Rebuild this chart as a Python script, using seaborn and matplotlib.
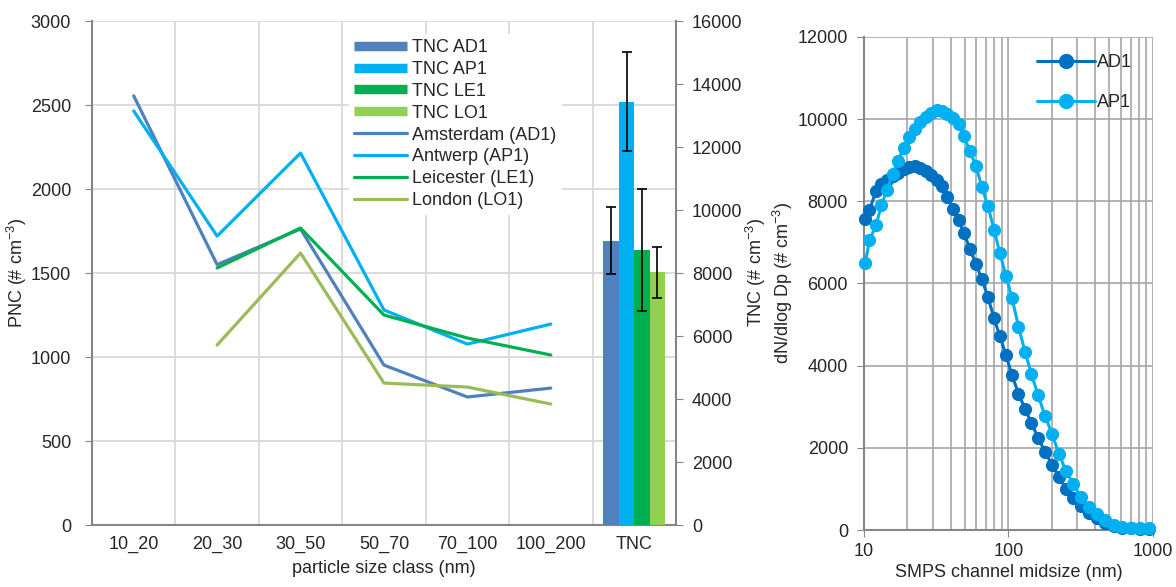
import numpy as np
import pandas as pd
import matplotlib
matplotlib.use("Agg")
import matplotlib.pyplot as plt
from matplotlib.lines import Line2D
from matplotlib.ticker import LogLocator, NullFormatter
import seaborn as sns

sns.set_style("white")
plt.rcParams["font.family"] = ["Liberation Sans", "DejaVu Sans"]
plt.rcParams["font.size"] = 13
plt.rcParams["mathtext.default"] = "regular"

# left panel: PNC per size class + TNC bars
size_classes = ["10_20", "20_30", "30_50", "50_70", "70_100", "100_200"]
x_categories = size_classes + ["TNC"]
sites = ["AD1", "AP1", "LE1", "LO1"]
city_names = ["Amsterdam (AD1)", "Antwerp (AP1)", "Leicester (LE1)", "London (LO1)"]
ad1_pnc = [2555, 1550, 1762, 952, 762, 815]
ap1_pnc = [2465, 1720, 2214, 1280, 1077, 1196]
le1_pnc = [np.nan, 1530, 1768, 1250, 1113, 1012]
lo1_pnc = [np.nan, 1071, 1619, 845, 821, 720]
tnc_mean = [9030, 13440, 8730, 8020]
tnc_err = [1050, 1570, 1925, 800]

line_colors = ["#4f81bd", "#00b0f0", "#00b050", "#9bbb59"]
bar_colors = ["#4f81bd", "#00b0f0", "#00b050", "#92d050"]

# right panel: SMPS size distribution
midsize = [10.2, 10.9, 12.1, 13.2, 14.4, 15.8, 17.2, 18.8, 20.5, 22.4,
           24.4, 26.7, 29.1, 31.8, 34.7, 37.8, 41.3, 45.1, 49.2, 54.1,
           59.6, 65.6, 72.1, 79.4, 87.3, 96.1, 105.7, 117.3, 130.1, 144.3,
           160.0, 178.9, 200.0, 223.7, 250.0, 281.8, 317.6, 360.7, 409.9, 469.3,
           537.3, 615.1, 704.3, 812.8, 938.2]
ad1_psd = [7560, 7790, 8240, 8410, 8520, 8610, 8700, 8780, 8830, 8870,
           8820, 8740, 8640, 8520, 8370, 8100, 7810, 7550, 7230, 6840,
           6470, 6100, 5660, 5160, 4710, 4260, 3770, 3320, 2950, 2600,
           2250, 1910, 1590, 1290, 1010, 790, 580, 420, 290, 180,
           100, 60, 40, 30, 25]
ap1_psd = [6490, 7050, 7420, 7900, 8280, 8670, 8990, 9290, 9560, 9760,
           9920, 10050, 10150, 10230, 10200, 10120, 10020, 9870, 9580, 9220,
           8850, 8340, 7880, 7310, 6730, 6190, 5650, 4950, 4340, 3790,
           3290, 2780, 2340, 1850, 1440, 1110, 810, 560, 390, 250,
           130, 80, 56, 42, 40]

spine_col = "#868686"
grid_left = "#d9d9d9"
grid_right = "#a6a6a6"

fig = plt.figure(figsize=(11.76, 5.87), dpi=100)
ax = fig.add_axes([0.0782, 0.1056, 0.4966, 0.8586])
ax2 = ax.twinx()
axr = fig.add_axes([0.7347, 0.0971, 0.2457, 0.8399])

# lines
pnc = pd.DataFrame({
    "pos": np.tile(np.arange(len(size_classes)), len(sites)),
    "pnc": np.concatenate([ad1_pnc, ap1_pnc, le1_pnc, lo1_pnc]),
    "city": np.repeat(city_names, len(size_classes)),
})
sns.lineplot(data=pnc.dropna(), x="pos", y="pnc", hue="city", palette=line_colors,
             linewidth=2.3, ax=ax, legend=False, sort=False)

# TNC bars on secondary axis
tnc = pd.DataFrame({"cat": ["TNC"] * 4, "tnc": tnc_mean,
                    "site": ["TNC " + s for s in sites]})
sns.barplot(data=tnc, x="cat", y="tnc", hue="site", order=x_categories,
            palette=bar_colors, width=0.74, errorbar=None, saturation=1,
            linewidth=0, ax=ax2, legend=False)
bars = sorted([p for p in ax2.patches if p.get_height() > 0], key=lambda p: p.get_x())
for p, err in zip(bars, tnc_err):
    ax2.errorbar(p.get_x() + p.get_width() / 2, p.get_height(), yerr=err, fmt="none",
                 ecolor="black", elinewidth=1.2, capsize=3.8, capthick=1.2)

ax.set_xlim(-0.5, 6.5)
ax.set_ylim(0, 3000)
ax.set_yticks(np.arange(0, 3001, 500))
ax2.set_ylim(0, 16000)
ax2.set_yticks(np.arange(0, 16001, 2000))
ax.set_xticks(range(len(x_categories)))
ax.set_xticklabels(x_categories)
ax.set_xticks(np.arange(-0.5, 7, 1), minor=True)
ax.tick_params(axis="x", which="major", length=0, pad=8)
ax.tick_params(axis="x", which="minor", length=5, color=spine_col, direction="out")
ax.tick_params(axis="y", length=5, color=spine_col, pad=10, left=True)
ax2.tick_params(axis="y", length=5, color=spine_col, pad=6.5, right=True)
ax.grid(False)
ax2.grid(False)
ax.grid(axis="x", which="minor", color=grid_left, linewidth=1.3)
ax.grid(axis="y", which="major", color=grid_left, linewidth=1.3)
for a in (ax, ax2):
    for s in a.spines.values():
        s.set_visible(False)
ax.spines["left"].set_visible(True)
ax.spines["bottom"].set_visible(True)
ax2.spines["right"].set_visible(True)
for s in (ax.spines["left"], ax.spines["bottom"], ax2.spines["right"]):
    s.set_color(spine_col)
    s.set_linewidth(1.5)
ax.set_xlabel("particle size class (nm)", labelpad=5)
ax.set_ylabel("PNC (# cm$^{-3}$)", labelpad=1)
ax2.set_ylabel("TNC (# cm$^{-3}$)", labelpad=1)

handles = [Line2D([], [], color=c, lw=6.8, solid_capstyle="butt") for c in bar_colors]
handles += [Line2D([], [], color=c, lw=2.3, solid_capstyle="round") for c in line_colors]
labels = ["TNC " + s for s in sites] + city_names
leg = ax2.legend(handles, labels, loc="upper left", bbox_to_anchor=(0.44, 0.975),
                 frameon=True, fancybox=False, framealpha=1, edgecolor="none",
                 facecolor="white", handlelength=2.9, handletextpad=0.3,
                 labelspacing=0.27, borderpad=0.3, borderaxespad=0)

# right panel
psd = pd.DataFrame({
    "Dp": midsize * 2,
    "dN": ad1_psd + ap1_psd,
    "site": ["AD1"] * len(midsize) + ["AP1"] * len(midsize),
})
axr.set_xscale("log")
sns.lineplot(data=psd, x="Dp", y="dN", hue="site", palette=["#0070c0", "#00b0f0"],
             marker="o", markersize=9.5, markeredgewidth=0, linewidth=2.2,
             ax=axr, legend=False, sort=False, clip_on=False, zorder=3)
axr.set_xlim(10, 1000)
axr.set_ylim(0, 12000)
axr.set_yticks(np.arange(0, 12001, 2000))
axr.set_xticks([10, 100, 1000])
axr.set_xticklabels(["10", "100", "1000"])
axr.xaxis.set_minor_locator(LogLocator(base=10, subs=np.arange(2, 10)))
axr.xaxis.set_minor_formatter(NullFormatter())
axr.grid(False)
axr.grid(axis="x", which="both", color=grid_right, linewidth=1.2)
axr.grid(axis="y", which="major", color=grid_right, linewidth=1.2)
axr.tick_params(axis="x", which="major", length=5, color=spine_col, pad=4, bottom=True)
axr.tick_params(axis="x", which="minor", length=0)
axr.tick_params(axis="y", length=5, color=spine_col, pad=6.5, left=True)
for name, s in axr.spines.items():
    s.set_visible(name in ("left", "bottom"))
    s.set_color(spine_col)
    s.set_linewidth(1.5)
    s.set_zorder(2)
axr.set_xlabel("SMPS channel midsize (nm)", labelpad=3)
axr.set_ylabel("dN/dlog Dp (# cm$^{-3}$)", labelpad=1.5)

rhandles = [Line2D([], [], color=c, lw=2.2, marker="o", markersize=11, markeredgewidth=0)
            for c in ["#0070c0", "#00b0f0"]]
axr.legend(rhandles, ["AD1", "AP1"], loc="upper left", bbox_to_anchor=(0.6, 0.965),
           frameon=False, handlelength=3.2, handletextpad=0.1, labelspacing=1.27,
           borderpad=0, borderaxespad=0)

fig.savefig("out.png", dpi=100)
